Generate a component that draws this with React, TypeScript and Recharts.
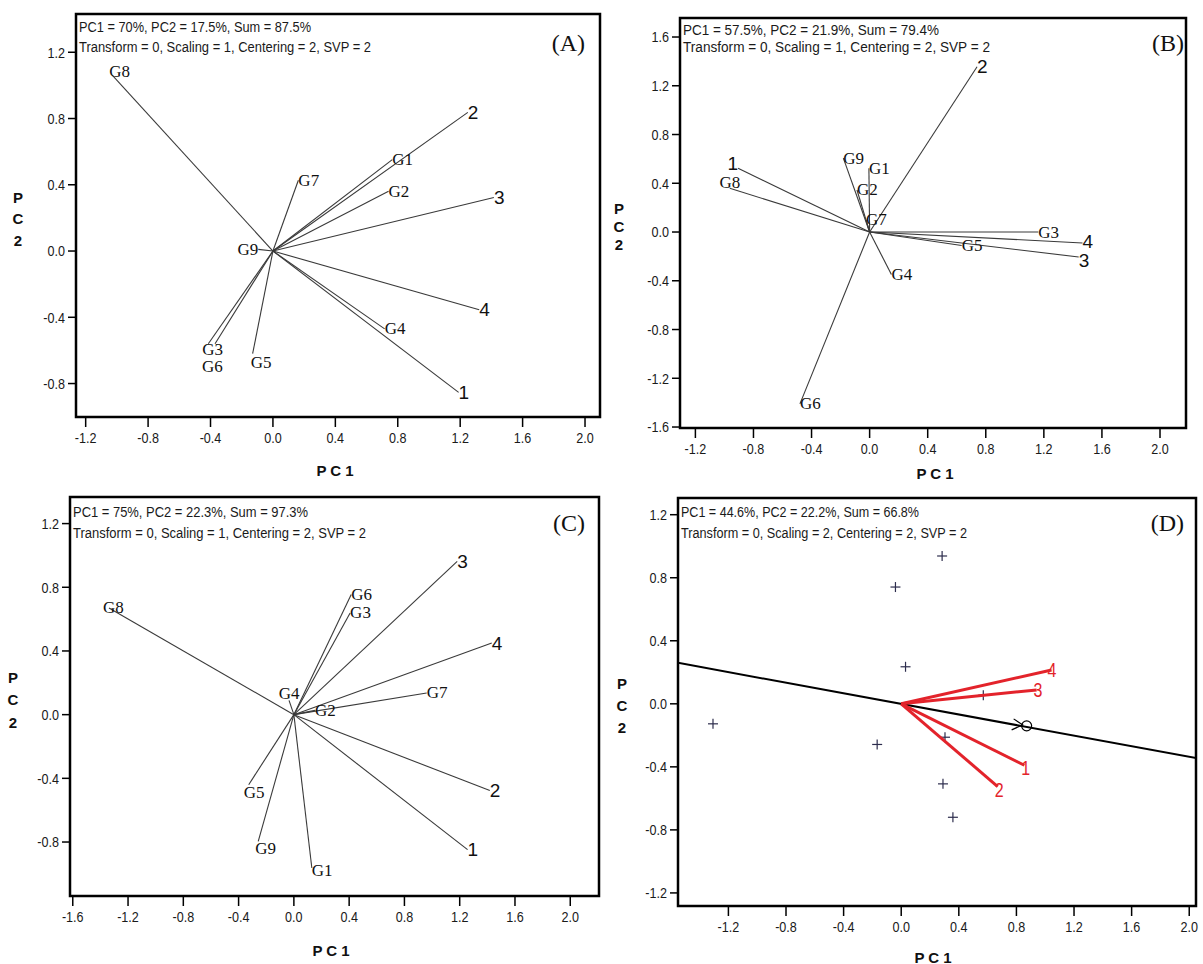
import React from "react"
import { ScatterChart, Scatter, XAxis, YAxis, ReferenceArea } from "recharts"

// ---- Panel A (PC1 = 70%, PC2 = 17.5%)
const aNames = ["G8", "2", "G1", "G2", "3", "G7", "G9", "4", "G4", "1", "G3", "G6", "G5"]
const aPC1 = [-1.03, 1.249, 0.765, 0.741, 1.416, 0.163, -0.094, 1.322, 0.716, 1.19, -0.414, -0.371, -0.13]
const aPC2 = [1.062, 0.837, 0.552, 0.361, 0.323, 0.427, 0.01, -0.355, -0.47, -0.853, -0.56, -0.56, -0.62]

// ---- Panel B (PC1 = 57.5%, PC2 = 21.9%)
const bNames = ["2", "1", "G8", "G9", "G1", "G2", "G7", "G3", "4", "3", "G5", "G4", "G6"]
const bPC1 = [0.74, -0.906, -0.963, -0.181, -0.005, -0.087, -0.025, 1.162, 1.466, 1.44, 0.634, 0.15, -0.48]
const bPC2 = [1.356, 0.523, 0.359, 0.606, 0.523, 0.345, 0.1, 0.0, -0.09, -0.205, -0.11, -0.348, -1.41]

// ---- Panel C (PC1 = 75%, PC2 = 22.3%)
const cNames = ["3", "G6", "G3", "G8", "4", "G7", "G4", "G2", "2", "1", "G5", "G9", "G1"]
const cPC1 = [1.182, 0.415, 0.407, -1.338, 1.432, 0.961, -0.035, 0.153, 1.418, 1.257, -0.327, -0.258, 0.13]
const cPC2 = [0.963, 0.754, 0.639, 0.67, 0.45, 0.136, 0.09, 0.027, -0.477, -0.848, -0.44, -0.796, -0.963]

// ---- Panel D (PC1 = 44.6%, PC2 = 22.2%), scaling = 2
const dEnvNames = ["4", "3", "1", "2"]
const dEnvPC1 = [1.044, 0.94, 0.855, 0.67]
const dEnvPC2 = [0.215, 0.088, -0.39, -0.525]
const dGenPC1 = [0.284, -0.04, 0.03, 0.57, -1.307, -0.167, 0.304, 0.29, 0.359]
const dGenPC2 = [0.938, 0.741, 0.235, 0.055, -0.127, -0.258, -0.212, -0.508, -0.72]
const dAvgEnv = [0.871, -0.14]
const dAecPC1 = [-1.55, 2.05]
const dAecPC2 = [0.26, -0.345]

// axes
const ticksA = [-1.2, -0.8, -0.4, 0, 0.4, 0.8, 1.2, 1.6, 2.0]
const ticksC = [-1.6, -1.2, -0.8, -0.4, 0, 0.4, 0.8, 1.2, 1.6, 2.0]
const yTicksA = [-0.8, -0.4, 0, 0.4, 0.8, 1.2]
const yTicksB = [-1.6, -1.2, -0.8, -0.4, 0, 0.4, 0.8, 1.2, 1.6]
const yTicksD = [-1.2, -0.8, -0.4, 0, 0.4, 0.8, 1.2]

const statsA = ["PC1 = 70%, PC2 = 17.5%, Sum = 87.5%", "Transform = 0, Scaling = 1, Centering = 2, SVP = 2"]
const statsB = ["PC1 = 57.5%, PC2 = 21.9%, Sum = 79.4%", "Transform = 0, Scaling = 1, Centering = 2, SVP = 2"]
const statsC = ["PC1 = 75%, PC2 = 22.3%, Sum = 97.3%", "Transform = 0, Scaling = 1, Centering = 2, SVP = 2"]
const statsD = ["PC1 = 44.6%, PC2 = 22.2%, Sum = 66.8%", "Transform = 0, Scaling = 2, Centering = 2, SVP = 2"]

const NARROW = '"Liberation Sans Narrow", "Arial Narrow", "Liberation Sans", Arial, sans-serif'
const SANS = '"Liberation Sans", Arial, sans-serif'
const SERIF = '"Liberation Serif", "Times New Roman", serif'

type Nudge = { dx?: number; dy?: number; anchor?: "start" | "middle" | "end" }

// label placement tweaks (pixels)
const nudgeA: Record<string, Nudge> = {
  G8: { dx: -3, dy: -4 },
  G9: { anchor: "end" },
  G3: { dx: -6, dy: 6 },
  G6: { dx: -13, dy: 23 },
  G5: { dx: -2, dy: 9 },
}
const nudgeB: Record<string, Nudge> = {
  "1": { anchor: "end", dy: -5 },
  G8: { anchor: "middle", dy: -6 },
  "4": { dy: -1 },
  "3": { dy: 3 },
}
const nudgeC: Record<string, Nudge> = {
  G8: { dx: -6 },
  G4: { anchor: "middle", dy: -7 },
  G5: { dx: -5, dy: 8 },
  G9: { dx: -3, dy: 7 },
  G1: { dy: 3 },
}
const nudgeD: Record<string, Nudge> = {
  "4": { dx: -4 },
  "3": { dx: -3 },
  "1": { dx: -3, dy: 3 },
  "2": { dx: -3, dy: 4 },
}

const fmt = (v: number) => v.toFixed(1)

// condensed tick labels, like the narrow face of the original
const XTick = (props: any) => {
  const { x, y, payload } = props
  return (
    <text
      x={x}
      y={y}
      dy="0.71em"
      textAnchor="middle"
      fontFamily={SANS}
      fontSize={15}
      fill="#1a1a1a"
      transform={`translate(${x},${y}) scale(0.84,1) translate(${-x},${-y})`}
    >
      {fmt(payload.value)}
    </text>
  )
}

const YTick = (props: any) => {
  const { x, y, payload } = props
  return (
    <text
      x={x}
      y={y}
      textAnchor="end"
      dominantBaseline="central"
      fontFamily={SANS}
      fontSize={15}
      fill="#1a1a1a"
      transform={`translate(${x},${y}) scale(0.84,1) translate(${-x},${-y})`}
    >
      {fmt(payload.value)}
    </text>
  )
}

function labelShape(nudge: Record<string, Nudge>, red: boolean) {
  return (props: any) => {
    const { cx, cy, payload } = props
    if (!payload || !payload.name) return <g />
    const name: string = payload.name
    const n = nudge[name] || {}
    const gen = name.startsWith("G")
    const x = cx + (n.dx ?? 0)
    const y = cy + (n.dy ?? 0)
    return (
      <text
        x={x}
        y={y}
        textAnchor={n.anchor ?? "start"}
        dominantBaseline="central"
        fontFamily={gen ? SERIF : SANS}
        fontSize={gen ? 17 : red ? 20 : 19}
        fill={red ? "#e3232b" : "#111"}
        transform={red ? `translate(${x},${y}) scale(0.8,1) translate(${-x},${-y})` : undefined}
      >
        {name}
      </text>
    )
  }
}

const plusShape = (props: any) => {
  const { cx, cy } = props
  return (
    <g stroke="#2d2d4d" strokeWidth={1.2}>
      <line x1={cx - 5} y1={cy} x2={cx + 5} y2={cy} />
      <line x1={cx} y1={cy - 5} x2={cx} y2={cy + 5} />
    </g>
  )
}

const avgEnvShape = (props: any) => {
  const { cx, cy } = props
  return (
    <g stroke="#000" strokeWidth={1.2} fill="none">
      <circle cx={cx} cy={cy} r={5} />
      <polyline points={`${cx - 13},${cy - 7} ${cx - 4},${cy - 1} ${cx - 15},${cy + 4}`} />
    </g>
  )
}

const emptyShape = () => <g />

interface PanelProps {
  left: number
  top: number
  width: number
  height: number
  margin: { top: number; right: number; bottom: number; left: number }
  xDomain: [number, number]
  yDomain: [number, number]
  xTicks: number[]
  yTicks: number[]
  children: React.ReactNode
}

function Panel({ left, top, width, height, margin, xDomain, yDomain, xTicks, yTicks, children }: PanelProps) {
  return (
    <div style={{ position: "absolute", left, top }}>
      <ScatterChart width={width} height={height} margin={margin}>
        <XAxis
          type="number"
          dataKey="x"
          domain={xDomain}
          allowDataOverflow
          ticks={xTicks}
          interval={0}
          tick={XTick}
          tickSize={10}
          tickMargin={5}
          axisLine={false}
          tickLine={{ stroke: "#000", strokeWidth: 1.5 }}
          height={40}
        />
        <YAxis
          type="number"
          dataKey="y"
          domain={yDomain}
          allowDataOverflow
          ticks={yTicks}
          interval={0}
          tick={YTick}
          tickSize={8}
          tickMargin={3}
          axisLine={false}
          tickLine={{ stroke: "#000", strokeWidth: 1.5 }}
          width={50}
        />
        {children}
        <ReferenceArea
          x1={xDomain[0]}
          x2={xDomain[1]}
          y1={yDomain[0]}
          y2={yDomain[1]}
          fill="none"
          fillOpacity={0}
          stroke="#000"
          strokeWidth={2.5}
          ifOverflow="visible"
        />
      </ScatterChart>
    </div>
  )
}

function vectors(names: string[], pc1: number[], pc2: number[], nudge: Record<string, Nudge>, red = false) {
  return names.map((name, i) => (
    <Scatter
      key={name}
      data={[{ x: 0, y: 0 }, { x: pc1[i], y: pc2[i], name }]}
      line={{ stroke: red ? "#e3232b" : "#3a3a3a", strokeWidth: red ? 3 : 1.1 }}
      shape={labelShape(nudge, red)}
      isAnimationActive={false}
    />
  ))
}

function Annotations() {
  const stat = (x: number, y1: number, y2: number, lines: string[], w1: number, w2: number) => (
    <g fontFamily={NARROW} fontSize={14} fill="#1a1a1a">
      <text x={x} y={y1} dominantBaseline="central" textLength={w1} lengthAdjust="spacingAndGlyphs">{lines[0]}</text>
      <text x={x} y={y2} dominantBaseline="central" textLength={w2} lengthAdjust="spacingAndGlyphs">{lines[1]}</text>
    </g>
  )
  const tag = (x: number, y: number, s: string) => (
    <text x={x} y={y} textAnchor="end" dominantBaseline="central" fontFamily={SERIF} fontSize={24} fill="#111">{s}</text>
  )
  const pc1 = (x: number, y: number) => (
    <text x={x} y={y} textAnchor="middle" dominantBaseline="central" fontFamily={NARROW} fontWeight="bold" fontSize={15} fill="#111">P C 1</text>
  )
  const pc2 = (x: number, ys: number[]) => (
    <g fontFamily={NARROW} fontWeight="bold" fontSize={15} fill="#111" textAnchor="middle">
      {["P", "C", "2"].map((c, i) => (
        <text key={c} x={x} y={ys[i]} dominantBaseline="central">{c}</text>
      ))}
    </g>
  )
  return (
    <svg width={1203} height={964} style={{ position: "absolute", left: 0, top: 0, pointerEvents: "none" }}>
      {stat(79, 27, 47, statsA, 232, 292)}
      {stat(683, 30, 47, statsB, 256, 307)}
      {stat(73, 512, 533, statsC, 235, 293)}
      {stat(681, 512, 533, statsD, 238, 286)}
      {tag(585, 43, "(A)")}
      {tag(1184, 43, "(B)")}
      {tag(585, 523, "(C)")}
      {tag(1184, 523, "(D)")}
      {pc1(335, 470)}
      {pc1(935, 473)}
      {pc1(331, 950)}
      {pc1(933, 957)}
      {pc2(18, [197, 218, 240])}
      {pc2(619, [208, 226, 244])}
      {pc2(13, [677, 699, 722])}
      {pc2(622, [683, 705, 727])}
    </svg>
  )
}

export default function App() {
  const dGen = dGenPC1.map((x, i) => ({ x, y: dGenPC2[i] }))
  const dAec = dAecPC1.map((x, i) => ({ x, y: dAecPC2[i] }))
  return (
    <div style={{ position: "absolute", left: 0, top: 0, width: 1203, height: 964, background: "#fff", overflow: "hidden" }}>
      <Panel
        left={0} top={0} width={602} height={482}
        margin={{ top: 14, right: 2, bottom: 25, left: 26 }}
        xDomain={[-1.262, 2.096]} yDomain={[-1.002, 1.431]}
        xTicks={ticksA} yTicks={yTicksA}
      >
        {vectors(aNames, aPC1, aPC2, nudgeA)}
      </Panel>
      <Panel
        left={600} top={0} width={603} height={482}
        margin={{ top: 18, right: 17, bottom: 14, left: 30 }}
        xDomain={[-1.306, 2.179]} yDomain={[-1.608, 1.756]}
        xTicks={ticksA} yTicks={yTicksB}
      >
        {vectors(bNames, bPC1, bPC2, nudgeB)}
      </Panel>
      <Panel
        left={0} top={482} width={602} height={482}
        margin={{ top: 15, right: 3, bottom: 28, left: 20 }}
        xDomain={[-1.62, 2.208]} yDomain={[-1.139, 1.367]}
        xTicks={ticksC} yTicks={yTicksA}
      >
        {vectors(cNames, cPC1, cPC2, nudgeC)}
      </Panel>
      <Panel
        left={600} top={482} width={603} height={482}
        margin={{ top: 16, right: 7, bottom: 18, left: 28 }}
        xDomain={[-1.55, 2.047]} yDomain={[-1.283, 1.306]}
        xTicks={ticksA} yTicks={yTicksD}
      >
        <Scatter data={dAec} line={{ stroke: "#000", strokeWidth: 2 }} shape={emptyShape} isAnimationActive={false} />
        <Scatter data={dGen} shape={plusShape} isAnimationActive={false} />
        {vectors(dEnvNames, dEnvPC1, dEnvPC2, nudgeD, true)}
        <Scatter data={[{ x: dAvgEnv[0], y: dAvgEnv[1] }]} shape={avgEnvShape} isAnimationActive={false} />
      </Panel>
      <Annotations />
    </div>
  )
}
